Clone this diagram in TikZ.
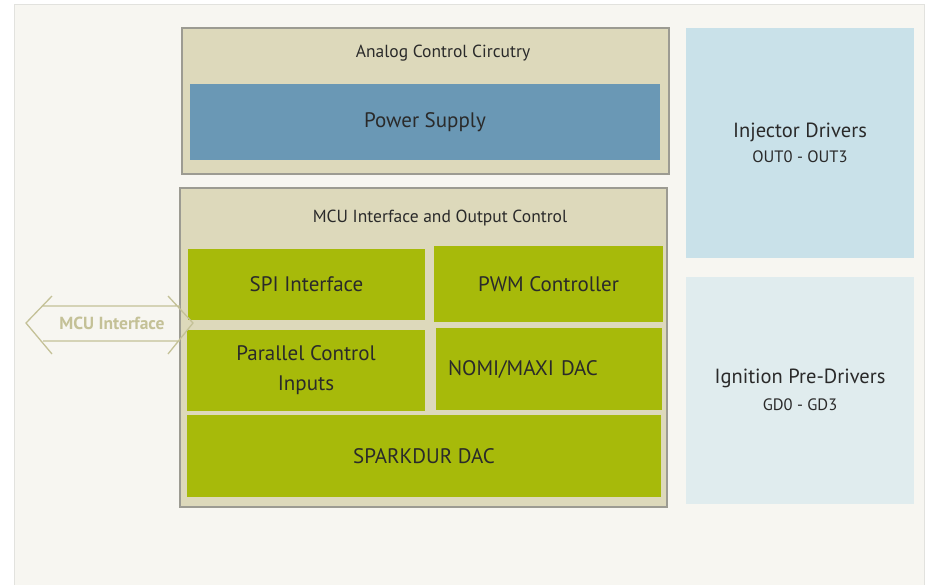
\documentclass[tikz,border=0pt]{standalone}
\usepackage{fontspec}
\setmainfont{PT Sans}
\usetikzlibrary{positioning, calc}
\definecolor{panelbg}{HTML}{F7F6F1}
\definecolor{panelline}{HTML}{E2E2DE}
\definecolor{boxtan}{HTML}{DDD9BB}
\definecolor{boxline}{HTML}{9C9B92}
\definecolor{powerblue}{HTML}{6A98B5}
\definecolor{ctrlgreen}{HTML}{A7BA0A}
\definecolor{injblue}{HTML}{C9E1E9}
\definecolor{ignblue}{HTML}{E0ECEE}
\definecolor{khaki}{HTML}{C4C197}
\definecolor{txt}{HTML}{2A2A2A}

\tikzset{
    block/.style={inner sep=0pt, outer sep=0pt, text=txt, align=center, font=\fontsize{21}{30}\selectfont},
    holder/.style={block, fill=boxtan, draw=boxline, line width=1.6pt},
    greenbox/.style={block, fill=ctrlgreen},
    title/.style={text=txt, inner sep=0pt, font=\fontsize{17.5}{20}\selectfont},
}

\begin{document}
\begin{tikzpicture}[x=1pt, y=-1pt]
        \useasboundingbox (0,0) rectangle (926,584);
        \fill[white] (0,0) rectangle (926,584);
        \fill[fill=panelbg] (14,4) rectangle (924,590);
        \draw[panelline, line width=1pt] (14,590) -- (14,4) -- (924,4) -- (924,590);
        % analog block
        \node[holder, minimum width=487pt, minimum height=146pt] (analog) at (425.5,101) {};
        \node[title] (analogT) at (443,53) {Analog Control Circutry};
        \node[block, fill=powerblue, minimum width=470pt, minimum height=76pt] (power) at (425,122) {Power Supply};
        % mcu block
        \node[holder, minimum width=487pt, minimum height=319pt] (mcu) at (423.5,347.5) {};
        \node[title] (mcuT) at (440,218) {MCU Interface and Output Control};
        \node[greenbox, minimum width=237pt, minimum height=71pt] (spi) at (306.5,284.5) {SPI Interface};
        \node[greenbox, minimum width=229pt, minimum height=76pt] (pwm) at (548.5,284) {PWM Controller};
        \node[greenbox, minimum width=238pt, minimum height=81pt] (par) at (306,370) {Parallel Control\\Inputs};
        \node[greenbox, minimum width=226pt, minimum height=82pt, text width=202pt, inner xsep=12pt, align=left] (nomi) at (549,369) {NOMI/MAXI DAC};
        \node[greenbox, minimum width=474pt, minimum height=82pt] (spark) at (424,456) {SPARKDUR DAC};
        % driver blocks
        \node[block, fill=injblue, minimum width=228pt, minimum height=230pt, font=\fontsize{20.5}{25}\selectfont] (inj) at (800,143) {Injector Drivers\\{\fontsize{16.5}{25}\selectfont OUT0 - OUT3}};
        \node[block, fill=ignblue, minimum width=228pt, minimum height=227pt, font=\fontsize{20.5}{27}\selectfont] (ign) at (800,390) {Ignition Pre-Drivers\\{\fontsize{16.5}{27}\selectfont GD0 - GD3}};
        % mcu interface arrow
        \coordinate (mcuL) at (26,323);
        \coordinate (mcuR) at (193,323);
        \draw[khaki, line width=1.3pt]
            ($(mcuL)+(26,-27)$) -- (mcuL) -- ($(mcuL)+(26,31)$)
            ($(mcuR)+(-25,-27)$) -- (mcuR) -- ($(mcuR)+(-25,31)$)
            ($(mcuL)+(17,-17)$) -- ($(mcuR)+(-13,-17)$)
            ($(mcuL)+(17,18)$) -- ($(mcuR)+(-13,18)$);
        \node[text=khaki, inner sep=0pt, font=\bfseries\fontsize{17.5}{20}\selectfont] (mcuI) at (112,323) {MCU Interface};
\end{tikzpicture}
\end{document}
